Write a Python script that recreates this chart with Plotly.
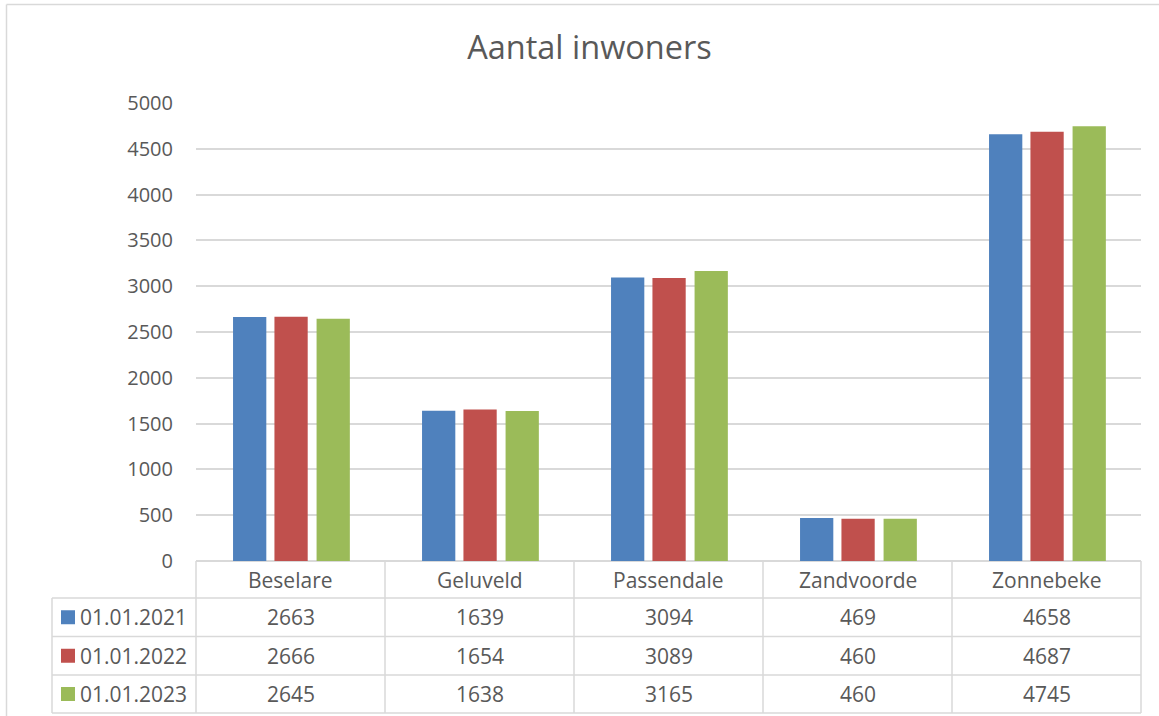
import plotly.graph_objects as go

categories = ["Beselare", "Geluveld", "Passendale", "Zandvoorde", "Zonnebeke"]
series_names = ["01.01.2021", "01.01.2022", "01.01.2023"]
values_2021 = [2663, 1639, 3094, 469, 4658]
values_2022 = [2666, 1654, 3089, 460, 4687]
values_2023 = [2645, 1638, 3165, 460, 4745]
colors = ["#4F81BD", "#C0504D", "#9BBB59"]
title_text = "Aantal inwoners"

series_values = [values_2021, values_2022, values_2023]

W_FIG, H_FIG = 1159, 716
L, R, T, B = 196, 1141, 103, 561
PW, PH = R - L, B - T
CAT_W = PW / len(categories)
TXT = "#595959"
GRID = "#D9D9D9"
FONT = "'Open Sans', 'Noto Sans', sans-serif"


def px(x):
    return (x - L) / PW


def py(y):
    return (B - y) / PH


fig = go.Figure()
offsets = [-0.304, -0.085, 0.138]
bar_w = 0.176
for name, vals, col, off in zip(series_names, series_values, colors, offsets):
    fig.add_trace(go.Bar(
        x=categories, y=vals, name=name,
        marker=dict(color=col, line=dict(width=0)),
        width=bar_w, offset=off, showlegend=False,
        hovertemplate="%{x}<br>" + name + ": %{y}<extra></extra>",
    ))

shapes = []
annotations = []

# outer chart border (left + top)
shapes.append(dict(type="line", xref="paper", yref="paper",
                   x0=px(6.5), x1=px(6.5), y0=py(4.5), y1=py(720),
                   line=dict(color=GRID, width=1.5)))
shapes.append(dict(type="line", xref="paper", yref="paper",
                   x0=px(6.5), x1=px(1165), y0=py(4.5), y1=py(4.5),
                   line=dict(color=GRID, width=1.5)))

# data table grid
row_lines = [598, 636.5, 675, 713]
for i in range(len(categories) + 1):
    xv = L + i * CAT_W
    shapes.append(dict(type="line", xref="paper", yref="paper",
                       x0=px(xv), x1=px(xv), y0=py(B), y1=py(713),
                       line=dict(color=GRID, width=1.5)))
shapes.append(dict(type="line", xref="paper", yref="paper",
                   x0=px(52), x1=px(52), y0=py(598), y1=py(713),
                   line=dict(color=GRID, width=1.5)))
for yv in row_lines:
    shapes.append(dict(type="line", xref="paper", yref="paper",
                       x0=px(52), x1=px(R), y0=py(yv), y1=py(yv),
                       line=dict(color=GRID, width=1.5)))

TS = 21
# header labels
for i, cat in enumerate(categories):
    annotations.append(dict(x=px(L + (i + 0.5) * CAT_W), y=py((B + 598) / 2),
                            xref="paper", yref="paper", text=cat, showarrow=False,
                            xanchor="center", yanchor="middle",
                            font=dict(size=TS, color=TXT, family=FONT)))

row_tops = [598, 636.5, 675, 713]
for r, (name, vals, col) in enumerate(zip(series_names, series_values, colors)):
    yc = (row_tops[r] + row_tops[r + 1]) / 2
    # legend swatch
    shapes.append(dict(type="rect", xref="paper", yref="paper",
                       x0=px(61), x1=px(75), y0=py(yc - 7), y1=py(yc + 7),
                       fillcolor=col, line=dict(width=0)))
    annotations.append(dict(x=px(78), y=py(yc), xref="paper", yref="paper",
                            text=name, showarrow=False, xanchor="left", yanchor="middle",
                            font=dict(size=TS, color=TXT, family=FONT)))
    for i, v in enumerate(vals):
        annotations.append(dict(x=px(L + (i + 0.5) * CAT_W), y=py(yc),
                                xref="paper", yref="paper", text=str(v), showarrow=False,
                                xanchor="center", yanchor="middle",
                                font=dict(size=TS, color=TXT, family=FONT)))

fig.update_layout(
    width=W_FIG, height=H_FIG,
    margin=dict(l=L, r=W_FIG - R, t=T, b=H_FIG - B, pad=0),
    paper_bgcolor="white", plot_bgcolor="white",
    barmode="group",
    title=dict(text=title_text, x=589.5 / W_FIG, xref="container", xanchor="center",
               y=1 - 48 / H_FIG, yref="container", yanchor="middle",
               font=dict(size=32.5, color=TXT, family=FONT)),
    xaxis=dict(showticklabels=False, showgrid=False, showline=False,
               zeroline=False, ticks="", range=[-0.5, 4.5]),
    yaxis=dict(range=[0, 5000], dtick=500, showgrid=True, gridcolor=GRID,
               gridwidth=1.5, zeroline=True, zerolinecolor=GRID, zerolinewidth=1.5,
               showline=False, ticks="", ticklabelstandoff=22,
               tickfont=dict(size=20, color=TXT, family=FONT)),
    shapes=shapes, annotations=annotations,
    font=dict(family=FONT, color=TXT),
)

fig.write_html("out.html", config={"displayModeBar": False},
               post_script="document.body.style.margin='0';document.body.style.padding='0';")
